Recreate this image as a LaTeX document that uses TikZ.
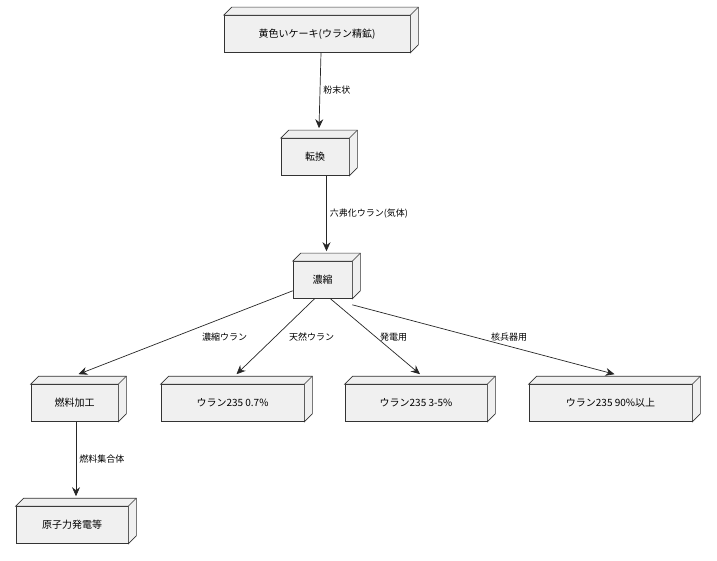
\documentclass[tikz,border=0pt]{standalone}
\usepackage{fontspec}
\setmainfont{Noto Sans CJK JP}
\usetikzlibrary{arrows.meta}
\begin{document}
\begin{tikzpicture}[x=1pt,y=-1pt,
  box/.style={draw=black!80, fill=black!6, minimum height=37pt, inner xsep=14pt, font=\fontsize{10}{12}\selectfont, line width=0.6pt},
  arr/.style={draw=black!85, line width=0.7pt, -{Stealth[length=9pt,width=8pt,inset=3pt]}},
  lab/.style={font=\fontsize{9}{11}\selectfont, anchor=west, inner sep=1pt}]
\useasboundingbox (0,0) rectangle (717,561);
\node[box, minimum width=186pt] (a) at (317,34) {黄色いケーキ(ウラン精鉱)};
\node[box, minimum width=68pt] (b) at (315,157) {転換};
\node[box, minimum width=59pt] (c) at (322.5,280) {濃縮};
\node[box, minimum width=87pt] (d) at (74.5,403) {燃料加工};
\node[box, minimum width=143pt] (e) at (232.5,403) {ウラン235 0.7\%};
\node[box, minimum width=142pt] (f) at (416,403) {ウラン235 3-5\%};
\node[box, minimum width=163pt] (g) at (610.5,403) {ウラン235 90\%以上};
\node[box, minimum width=112pt] (h) at (72,525) {原子力発電等};
\foreach \n in {a,b,c,d,e,f,g,h}{
  \filldraw[draw=black!80, fill=black!6, line width=0.6pt]
    (\n.north west) -- ++(8,-8) -| ([shift={(8,-8)}]\n.south east) -- (\n.south east) -- (\n.north east) -- cycle;
  \draw[black!80, line width=0.6pt] (\n.north east) -- ++(8,-8);
  \coordinate (\n t) at ([shift={(4,-10)}]\n.north);
}
\draw[arr] (a.south -| at) -- (bt) node[lab, midway, xshift=2pt] {粉末状};
\draw[arr] (b.south -| ct) -- (ct) node[lab, midway, xshift=2pt] {六弗化ウラン(気体)};
\draw[arr] (c.south west) ++(0,-8) -- (dt);
\draw[arr] ([xshift=-8]c.south) -- (et);
\draw[arr] ([xshift=8]c.south) -- (ft);
\draw[arr] ([yshift=-6]c.south east) -- (gt);
\node[lab] (l1) at (201,337) {濃縮ウラン};
\node[lab] (l2) at (288,337) {天然ウラン};
\node[lab] (l3) at (379,337) {発電用};
\node[lab] (l4) at (490,337) {核兵器用};
\draw[arr] (d.south -| ht) -- (ht) node[lab, midway, xshift=2pt] {燃料集合体};
\end{tikzpicture}
\end{document}
